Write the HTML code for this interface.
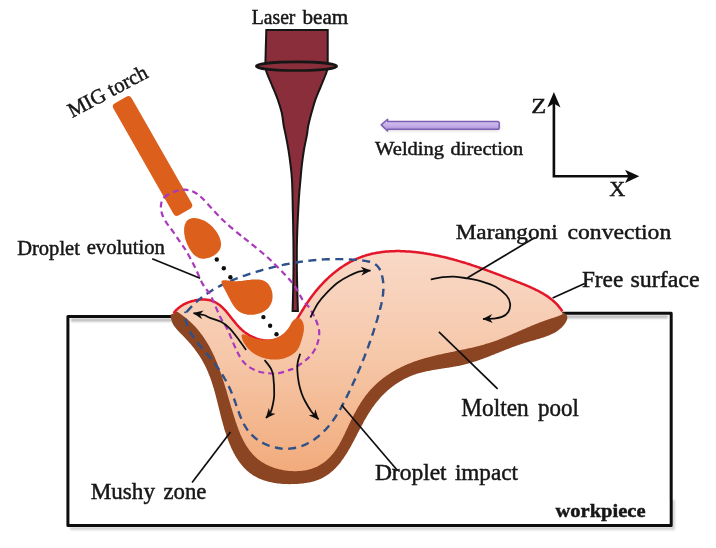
<!DOCTYPE html>
<html><head><meta charset="utf-8">
<style>
html,body{margin:0;padding:0;background:#fff;}
svg{display:block;}
text{font-family:"Liberation Serif",serif;fill:#151515;stroke:#151515;stroke-width:0.45px;}
</style></head>
<body>
<svg width="716" height="548" viewBox="0 0 716 548">
<defs>
<linearGradient id="pg" x1="0" y1="250" x2="0" y2="480" gradientUnits="userSpaceOnUse">
<stop offset="0" stop-color="#f9d9c8"/><stop offset="0.45" stop-color="#f6c8aa"/><stop offset="1" stop-color="#f1a978"/>
</linearGradient>
<linearGradient id="wg" x1="0" y1="0" x2="0" y2="1"><stop offset="0" stop-color="#dccbf3"/><stop offset="0.5" stop-color="#c7b0e8"/><stop offset="1" stop-color="#a98cd8"/></linearGradient>
<filter id="sh2" x="-10%" y="-10%" width="120%" height="120%"><feGaussianBlur stdDeviation="0.9"/></filter>
<filter id="sh" x="-10%" y="-10%" width="120%" height="120%"><feGaussianBlur stdDeviation="1.5"/></filter>
<filter id="bl" x="-5%" y="-5%" width="110%" height="110%"><feGaussianBlur stdDeviation="0.35"/></filter>
<marker id="ah" viewBox="0 0 10 10" refX="9.5" refY="5" markerWidth="10" markerHeight="10" orient="auto" markerUnits="userSpaceOnUse">
<path d="M0,0.5 L10,5 L0,9.5 L3,5 Z" fill="#111"/></marker>
</defs>
<g filter="url(#bl)">
<!-- workpiece shadow -->
<g filter="url(#sh2)" stroke="#b5b5b5" stroke-width="3" fill="none">
<path d="M71,320 L174,320 M563,316.8 L668,316.8"/><path d="M673.3,500 L673.3,528.6 L70,528.6" stroke="#d0d0d0"/>
</g>
<g stroke="#111" stroke-width="3" fill="none" stroke-linejoin="miter">
<path d="M174,316.6 L67.9,316.6 L67.9,525.6 L671.2,525.6 L671.2,313.3 L561,313.3" stroke-linejoin="round"/>
</g>
<!-- pool -->
<path d="M170.8,314.5 L170.8,315.6 L170.8,316.7 L170.9,317.7 L171.1,318.7 L171.3,319.7 L171.6,320.6 L171.9,321.6 L172.2,322.4 L172.6,323.3 L173.0,324.2 L173.5,325.0 L174.0,325.8 L174.5,326.6 L175.1,327.3 L175.7,328.1 L176.3,328.8 L176.9,329.6 L177.6,330.3 L178.3,331.0 L179.0,331.7 L179.7,332.4 L180.4,333.2 L181.1,333.9 L181.8,334.6 L182.5,335.3 L183.2,336.0 L183.9,336.7 L184.6,337.5 L185.3,338.2 L186.0,338.9 L186.7,339.7 L187.4,340.4 L188.1,341.2 L188.8,342.0 L189.4,342.7 L190.1,343.5 L190.8,344.3 L191.4,345.1 L192.1,345.9 L192.7,346.7 L193.4,347.5 L194.0,348.3 L194.6,349.1 L195.2,349.9 L195.8,350.7 L196.4,351.6 L197.0,352.4 L197.6,353.2 L198.2,354.1 L198.8,354.9 L199.3,355.8 L199.9,356.6 L200.4,357.5 L201.0,358.3 L201.5,359.2 L202.0,360.1 L202.5,360.9 L203.0,361.8 L203.5,362.7 L203.9,363.6 L204.4,364.4 L204.9,365.3 L205.3,366.2 L205.7,367.1 L206.2,368.0 L206.6,368.9 L207.0,369.8 L207.4,370.7 L207.8,371.6 L208.2,372.5 L208.5,373.4 L208.9,374.4 L209.3,375.3 L209.6,376.2 L210.0,377.1 L210.3,378.0 L210.7,379.0 L211.0,379.9 L211.3,380.8 L211.6,381.8 L211.9,382.7 L212.2,383.6 L212.5,384.6 L212.8,385.5 L213.1,386.5 L213.4,387.4 L213.7,388.3 L214.0,389.3 L214.2,390.3 L214.5,391.2 L214.8,392.2 L215.0,393.1 L215.3,394.1 L215.6,395.0 L215.8,396.0 L216.1,397.0 L216.3,397.9 L216.6,398.9 L216.8,399.9 L217.0,400.8 L217.3,401.8 L217.5,402.8 L217.8,403.7 L218.0,404.7 L218.3,405.7 L218.5,406.7 L218.7,407.6 L219.0,408.6 L219.2,409.6 L219.5,410.6 L219.7,411.5 L219.9,412.5 L220.2,413.5 L220.4,414.5 L220.7,415.5 L220.9,416.4 L221.2,417.4 L221.4,418.4 L221.7,419.4 L221.9,420.4 L222.2,421.3 L222.5,422.3 L222.7,423.3 L223.0,424.3 L223.3,425.3 L223.6,426.3 L223.9,427.2 L224.1,428.2 L224.4,429.2 L224.7,430.2 L225.0,431.2 L225.3,432.1 L225.7,433.1 L226.0,434.1 L226.3,435.1 L226.6,436.0 L227.0,437.0 L227.3,438.0 L227.7,438.9 L228.0,439.9 L228.4,440.9 L228.7,441.8 L229.1,442.8 L229.5,443.7 L229.9,444.7 L230.3,445.6 L230.7,446.5 L231.1,447.4 L231.5,448.4 L231.9,449.3 L232.4,450.2 L232.8,451.1 L233.3,452.0 L233.7,452.9 L234.2,453.7 L234.7,454.6 L235.1,455.5 L235.6,456.3 L236.1,457.2 L236.7,458.0 L237.2,458.8 L237.7,459.6 L238.3,460.4 L238.8,461.2 L239.4,462.0 L239.9,462.8 L240.5,463.6 L241.1,464.3 L241.7,465.1 L242.3,465.8 L242.9,466.5 L243.6,467.2 L244.2,467.9 L244.9,468.6 L245.6,469.3 L246.2,469.9 L246.9,470.6 L247.6,471.2 L248.4,471.8 L249.1,472.4 L249.8,473.0 L250.6,473.5 L251.3,474.1 L252.1,474.6 L252.9,475.2 L253.7,475.7 L254.5,476.1 L255.4,476.6 L256.2,477.1 L257.1,477.5 L258.0,477.9 L258.8,478.4 L259.7,478.7 L260.6,479.1 L261.5,479.5 L262.5,479.8 L263.4,480.2 L264.3,480.5 L265.3,480.8 L266.3,481.1 L267.2,481.4 L268.2,481.6 L269.2,481.9 L270.2,482.1 L271.2,482.3 L272.2,482.5 L273.2,482.7 L274.2,482.9 L275.3,483.1 L276.3,483.2 L277.3,483.4 L278.4,483.5 L279.4,483.6 L280.5,483.7 L281.5,483.8 L282.6,483.9 L283.7,484.0 L284.7,484.0 L285.8,484.1 L286.9,484.1 L287.9,484.1 L289.0,484.2 L290.1,484.2 L291.2,484.1 L292.2,484.1 L293.3,484.1 L294.4,484.1 L295.5,484.0 L296.5,484.0 L297.6,483.9 L298.7,483.8 L299.8,483.7 L300.8,483.6 L301.9,483.5 L303.0,483.4 L304.0,483.3 L305.1,483.1 L306.1,483.0 L307.1,482.8 L308.2,482.6 L309.2,482.4 L310.2,482.2 L311.2,481.9 L312.2,481.7 L313.2,481.4 L314.2,481.2 L315.1,480.9 L316.1,480.6 L317.0,480.2 L317.9,479.9 L318.9,479.5 L319.8,479.2 L320.7,478.8 L321.5,478.4 L322.4,477.9 L323.2,477.5 L324.1,477.0 L324.9,476.6 L325.7,476.1 L326.5,475.6 L327.3,475.1 L328.1,474.5 L328.8,474.0 L329.6,473.4 L330.3,472.8 L331.0,472.2 L331.8,471.6 L332.5,471.0 L333.2,470.4 L333.9,469.7 L334.5,469.1 L335.2,468.4 L335.9,467.7 L336.5,467.0 L337.2,466.3 L337.8,465.6 L338.4,464.9 L339.0,464.2 L339.7,463.4 L340.3,462.7 L340.9,461.9 L341.4,461.1 L342.0,460.3 L342.6,459.5 L343.2,458.7 L343.7,457.9 L344.3,457.1 L344.8,456.3 L345.4,455.5 L345.9,454.6 L346.5,453.8 L347.0,452.9 L347.5,452.1 L348.0,451.2 L348.5,450.3 L349.0,449.5 L349.6,448.6 L350.1,447.7 L350.6,446.8 L351.1,445.9 L351.6,445.0 L352.0,444.1 L352.5,443.2 L353.0,442.3 L353.5,441.4 L354.0,440.5 L354.5,439.6 L355.0,438.6 L355.4,437.7 L355.9,436.8 L356.4,435.9 L356.9,434.9 L357.3,434.0 L357.8,433.1 L358.3,432.2 L358.8,431.2 L359.3,430.3 L359.7,429.4 L360.2,428.5 L360.7,427.5 L361.2,426.6 L361.7,425.7 L362.2,424.8 L362.7,423.9 L363.2,423.0 L363.6,422.0 L364.1,421.1 L364.6,420.2 L365.2,419.3 L365.7,418.4 L366.2,417.5 L366.7,416.7 L367.2,415.8 L367.7,414.9 L368.3,414.0 L368.8,413.2 L369.4,412.3 L369.9,411.4 L370.5,410.6 L371.0,409.8 L371.6,408.9 L372.1,408.1 L372.7,407.3 L373.3,406.5 L373.9,405.7 L374.5,404.9 L375.1,404.1 L375.7,403.3 L376.3,402.5 L376.9,401.7 L377.6,401.0 L378.2,400.2 L378.8,399.5 L379.5,398.7 L380.1,398.0 L380.8,397.3 L381.4,396.6 L382.1,395.8 L382.8,395.1 L383.5,394.5 L384.2,393.8 L384.9,393.1 L385.6,392.4 L386.3,391.8 L387.0,391.1 L387.7,390.5 L388.4,389.8 L389.2,389.2 L389.9,388.6 L390.6,388.0 L391.4,387.4 L392.1,386.8 L392.9,386.2 L393.7,385.7 L394.5,385.1 L395.2,384.5 L396.0,384.0 L396.8,383.5 L397.6,382.9 L398.4,382.4 L399.2,381.9 L400.1,381.4 L400.9,380.9 L401.7,380.4 L402.6,380.0 L403.4,379.5 L404.3,379.1 L405.1,378.6 L406.0,378.2 L406.9,377.8 L407.8,377.4 L408.6,377.0 L409.5,376.6 L410.4,376.2 L411.3,375.8 L412.3,375.5 L413.2,375.1 L414.1,374.8 L415.0,374.4 L416.0,374.1 L416.9,373.8 L417.9,373.5 L418.8,373.2 L419.8,373.0 L420.8,372.7 L421.8,372.4 L422.7,372.2 L423.7,372.0 L424.7,371.7 L425.7,371.5 L426.7,371.3 L427.7,371.1 L428.7,370.9 L429.8,370.7 L430.8,370.5 L431.8,370.3 L432.8,370.1 L433.9,369.9 L434.9,369.8 L435.9,369.6 L436.9,369.4 L438.0,369.3 L439.0,369.1 L440.0,368.9 L441.1,368.8 L442.1,368.6 L443.2,368.5 L444.2,368.3 L445.2,368.1 L446.3,368.0 L447.3,367.8 L448.3,367.7 L449.4,367.5 L450.4,367.3 L451.4,367.2 L452.4,367.0 L453.5,366.8 L454.5,366.6 L455.5,366.5 L456.5,366.3 L457.5,366.1 L458.5,365.9 L459.5,365.7 L460.5,365.5 L461.5,365.2 L462.5,365.0 L463.5,364.8 L464.5,364.5 L465.4,364.3 L466.4,364.0 L467.4,363.8 L468.3,363.5 L469.3,363.2 L470.2,363.0 L471.2,362.7 L472.1,362.4 L473.1,362.1 L474.0,361.8 L475.0,361.5 L475.9,361.2 L476.8,360.9 L477.8,360.6 L478.7,360.2 L479.6,359.9 L480.5,359.6 L481.5,359.3 L482.4,358.9 L483.3,358.6 L484.2,358.3 L485.1,357.9 L486.0,357.6 L487.0,357.2 L487.9,356.9 L488.8,356.5 L489.7,356.2 L490.6,355.8 L491.5,355.4 L492.4,355.1 L493.3,354.7 L494.2,354.4 L495.1,354.0 L496.0,353.6 L497.0,353.3 L497.9,352.9 L498.8,352.5 L499.7,352.2 L500.6,351.8 L501.5,351.4 L502.4,351.1 L503.3,350.7 L504.3,350.3 L505.2,350.0 L506.1,349.6 L507.0,349.2 L508.0,348.9 L508.9,348.5 L509.8,348.2 L510.7,347.8 L511.7,347.5 L512.6,347.1 L513.6,346.8 L514.5,346.4 L515.4,346.1 L516.4,345.7 L517.3,345.4 L518.3,345.0 L519.3,344.7 L520.2,344.4 L521.2,344.1 L522.2,343.7 L523.2,343.4 L524.1,343.1 L525.1,342.8 L526.1,342.5 L527.1,342.2 L528.1,341.9 L529.1,341.6 L530.1,341.3 L531.1,341.0 L532.1,340.8 L533.2,340.5 L534.2,340.2 L535.2,339.9 L536.2,339.6 L537.2,339.3 L538.2,339.0 L539.2,338.7 L540.2,338.4 L541.2,338.1 L542.2,337.8 L543.2,337.5 L544.1,337.2 L545.1,336.8 L546.1,336.5 L547.0,336.1 L548.0,335.8 L548.9,335.4 L549.8,335.0 L550.7,334.6 L551.6,334.2 L552.5,333.8 L553.4,333.3 L554.2,332.9 L555.1,332.4 L555.9,331.9 L556.7,331.4 L557.5,330.9 L558.3,330.3 L559.0,329.7 L559.8,329.1 L560.5,328.5 L561.2,327.9 L561.9,327.2 L562.5,326.6 L563.1,325.9 L563.8,325.1 L564.3,324.4 L564.9,323.6 L565.4,322.8 L565.9,321.9 L566.4,321.1 L566.8,320.2 L567.1,319.3 L567.3,318.5 L567.3,317.6 L567.3,316.7 L567.0,315.9 L566.6,315.0 L566.0,314.2 L565.1,313.5 L564.1,312.8 L561.7,311.9 L561.4,310.9 L561.1,309.9 L560.8,308.9 L560.4,308.0 L559.9,307.2 L559.4,306.3 L558.9,305.5 L558.3,304.7 L557.7,304.0 L557.1,303.3 L556.5,302.6 L555.8,301.9 L555.1,301.2 L554.3,300.6 L553.5,300.0 L552.8,299.4 L551.9,298.9 L551.1,298.3 L550.3,297.8 L549.4,297.2 L548.5,296.7 L547.7,296.2 L546.8,295.8 L545.9,295.3 L545.0,294.8 L544.1,294.3 L543.1,293.9 L542.2,293.4 L541.3,293.0 L540.4,292.5 L539.5,292.1 L538.6,291.6 L537.7,291.2 L536.8,290.8 L535.8,290.3 L534.9,289.9 L534.0,289.5 L533.1,289.1 L532.2,288.6 L531.3,288.2 L530.3,287.8 L529.4,287.4 L528.5,287.0 L527.6,286.6 L526.7,286.2 L525.7,285.8 L524.8,285.4 L523.9,285.0 L523.0,284.6 L522.1,284.2 L521.1,283.8 L520.2,283.4 L519.3,283.0 L518.4,282.6 L517.4,282.2 L516.5,281.8 L515.6,281.5 L514.7,281.1 L513.7,280.7 L512.8,280.3 L511.9,280.0 L511.0,279.6 L510.0,279.2 L509.1,278.8 L508.2,278.5 L507.3,278.1 L506.3,277.7 L505.4,277.4 L504.5,277.0 L503.5,276.6 L502.6,276.3 L501.7,275.9 L500.7,275.6 L499.8,275.2 L498.9,274.8 L497.9,274.5 L497.0,274.1 L496.1,273.8 L495.1,273.4 L494.2,273.1 L493.3,272.7 L492.3,272.3 L491.4,272.0 L490.5,271.6 L489.5,271.3 L488.6,270.9 L487.7,270.6 L486.7,270.2 L485.8,269.9 L484.9,269.5 L483.9,269.2 L483.0,268.8 L482.0,268.5 L481.1,268.2 L480.2,267.8 L479.2,267.5 L478.3,267.1 L477.3,266.8 L476.4,266.5 L475.4,266.1 L474.5,265.8 L473.6,265.5 L472.6,265.2 L471.7,264.8 L470.7,264.5 L469.8,264.2 L468.8,263.9 L467.9,263.6 L466.9,263.3 L466.0,263.0 L465.0,262.6 L464.1,262.3 L463.1,262.0 L462.2,261.7 L461.2,261.5 L460.2,261.2 L459.3,260.9 L458.3,260.6 L457.4,260.3 L456.4,260.0 L455.5,259.7 L454.5,259.5 L453.5,259.2 L452.6,258.9 L451.6,258.7 L450.6,258.4 L449.7,258.2 L448.7,257.9 L447.7,257.7 L446.8,257.4 L445.8,257.2 L444.8,256.9 L443.9,256.7 L442.9,256.5 L441.9,256.2 L440.9,256.0 L440.0,255.8 L439.0,255.6 L438.0,255.4 L437.0,255.2 L436.1,255.0 L435.1,254.8 L434.1,254.6 L433.1,254.4 L432.1,254.2 L431.1,254.1 L430.2,253.9 L429.2,253.7 L428.2,253.6 L427.2,253.4 L426.2,253.2 L425.2,253.1 L424.2,253.0 L423.2,252.8 L422.2,252.7 L421.2,252.6 L420.2,252.4 L419.2,252.3 L418.2,252.2 L417.2,252.1 L416.2,252.0 L415.2,251.9 L414.2,251.8 L413.2,251.8 L412.2,251.7 L411.2,251.6 L410.2,251.6 L409.1,251.5 L408.1,251.5 L407.1,251.4 L406.1,251.4 L405.1,251.3 L404.1,251.3 L403.0,251.3 L402.0,251.3 L401.0,251.3 L400.0,251.3 L399.0,251.3 L397.9,251.3 L396.9,251.3 L395.9,251.4 L394.9,251.4 L393.9,251.5 L392.8,251.5 L391.8,251.6 L390.8,251.6 L389.8,251.7 L388.8,251.8 L387.7,251.9 L386.7,252.0 L385.7,252.1 L384.7,252.2 L383.7,252.3 L382.7,252.4 L381.7,252.6 L380.7,252.7 L379.7,252.8 L378.7,253.0 L377.7,253.2 L376.7,253.3 L375.7,253.5 L374.7,253.7 L373.7,253.9 L372.8,254.1 L371.8,254.3 L370.8,254.6 L369.8,254.8 L368.9,255.0 L367.9,255.3 L366.9,255.5 L366.0,255.8 L365.0,256.1 L364.1,256.4 L363.1,256.7 L362.2,257.0 L361.3,257.3 L360.3,257.6 L359.4,257.9 L358.5,258.3 L357.6,258.6 L356.6,259.0 L355.7,259.3 L354.8,259.7 L353.9,260.1 L353.1,260.5 L352.2,260.9 L351.3,261.3 L350.4,261.8 L349.6,262.2 L348.7,262.6 L347.9,263.1 L347.0,263.6 L346.2,264.1 L345.3,264.5 L344.5,265.0 L343.7,265.5 L342.9,266.1 L342.1,266.6 L341.3,267.1 L340.5,267.7 L339.7,268.2 L338.9,268.8 L338.1,269.3 L337.3,269.9 L336.5,270.5 L335.8,271.1 L335.0,271.7 L334.3,272.3 L333.5,272.9 L332.8,273.6 L332.0,274.2 L331.3,274.9 L330.6,275.5 L329.8,276.2 L329.1,276.8 L328.4,277.5 L327.7,278.2 L327.0,278.9 L326.3,279.6 L325.6,280.3 L324.9,281.0 L324.2,281.7 L323.5,282.4 L322.9,283.2 L322.2,283.9 L321.5,284.7 L320.8,285.4 L320.2,286.2 L319.5,286.9 L318.9,287.7 L318.2,288.5 L317.6,289.3 L316.9,290.1 L316.3,290.9 L315.6,291.7 L315.0,292.5 L314.4,293.3 L313.7,294.1 L313.1,294.9 L312.5,295.8 L311.9,296.6 L311.3,297.4 L310.7,298.3 L310.0,299.1 L309.4,300.0 L308.8,300.8 L308.2,301.7 L307.6,302.6 L307.0,303.4 L306.5,304.3 L305.9,305.2 L305.3,306.1 L304.7,307.0 L304.1,307.9 L303.5,308.8 L302.9,309.7 L302.4,310.6 L301.8,311.5 L301.2,312.4 L300.6,313.3 L300.1,314.2 L299.5,315.1 L298.9,316.0 L298.4,316.9 L297.8,317.8 L297.2,318.7 L296.6,319.5 L296.0,320.4 L295.5,321.3 L294.9,322.2 L294.3,323.0 L293.7,323.8 L293.1,324.7 L292.5,325.5 L291.9,326.3 L291.3,327.1 L290.6,327.9 L290.0,328.7 L289.4,329.4 L288.7,330.1 L288.1,330.9 L287.4,331.6 L286.8,332.2 L286.1,332.9 L285.4,333.5 L284.7,334.1 L284.0,334.7 L283.3,335.3 L282.6,335.9 L281.9,336.4 L281.2,336.9 L280.4,337.3 L279.6,337.8 L278.9,338.2 L278.1,338.6 L277.3,338.9 L276.5,339.2 L275.7,339.5 L274.8,339.8 L274.0,340.0 L273.1,340.2 L272.2,340.4 L271.3,340.5 L270.4,340.6 L269.5,340.6 L268.6,340.7 L267.6,340.6 L266.7,340.6 L265.7,340.5 L264.8,340.4 L263.8,340.3 L262.8,340.2 L261.9,340.0 L260.9,339.8 L259.9,339.5 L258.9,339.3 L258.0,339.0 L257.0,338.7 L256.0,338.3 L255.1,338.0 L254.1,337.6 L253.1,337.2 L252.2,336.8 L251.2,336.3 L250.3,335.8 L249.3,335.3 L248.4,334.8 L247.5,334.3 L246.6,333.7 L245.7,333.1 L244.8,332.5 L243.9,331.9 L243.1,331.3 L242.2,330.6 L241.4,330.0 L240.6,329.3 L239.8,328.6 L239.1,327.9 L238.3,327.2 L237.6,326.4 L236.9,325.7 L236.2,324.9 L235.5,324.1 L234.9,323.3 L234.3,322.5 L233.7,321.7 L233.1,320.9 L232.6,320.1 L232.0,319.2 L231.5,318.4 L230.9,317.6 L230.4,316.8 L229.9,315.9 L229.4,315.1 L228.9,314.3 L228.4,313.5 L227.8,312.7 L227.3,311.9 L226.7,311.1 L226.2,310.4 L225.6,309.6 L225.0,308.9 L224.4,308.2 L223.8,307.5 L223.1,306.9 L222.5,306.3 L221.8,305.6 L221.0,305.1 L220.2,304.5 L219.4,304.0 L218.6,303.5 L217.7,303.1 L216.8,302.6 L215.9,302.2 L214.9,301.9 L213.9,301.5 L212.9,301.2 L211.9,301.0 L210.9,300.7 L209.8,300.5 L208.8,300.3 L207.7,300.2 L206.6,300.1 L205.6,300.0 L204.5,299.9 L203.5,299.8 L202.4,299.8 L201.4,299.8 L200.3,299.9 L199.3,299.9 L198.3,300.0 L197.3,300.1 L196.3,300.3 L195.3,300.4 L194.3,300.6 L193.3,300.8 L192.3,301.1 L191.4,301.3 L190.4,301.6 L189.5,302.0 L188.6,302.3 L187.6,302.7 L186.7,303.1 L185.9,303.5 L185.0,303.9 L184.1,304.4 L183.3,304.9 L182.4,305.4 L181.6,305.9 L180.8,306.5 L180.0,307.1 L179.2,307.7 L178.4,308.3 L177.7,309.0 L176.9,309.6 L176.2,310.3 L175.5,311.0 L174.8,311.8 L174.1,312.6 L173.4,313.4Z" fill="#8b4422"/>
<path d="M176.7,311.4 L177.7,312.0 L178.6,312.6 L179.5,313.2 L180.4,313.8 L181.3,314.4 L182.2,315.1 L183.0,315.7 L183.9,316.4 L184.7,317.0 L185.5,317.7 L186.4,318.3 L187.2,319.0 L188.0,319.7 L188.7,320.4 L189.5,321.1 L190.3,321.8 L191.0,322.5 L191.8,323.2 L192.5,323.9 L193.2,324.6 L193.9,325.4 L194.6,326.1 L195.3,326.8 L196.0,327.6 L196.6,328.3 L197.3,329.1 L197.9,329.8 L198.6,330.6 L199.2,331.4 L199.8,332.1 L200.4,332.9 L201.0,333.7 L201.6,334.5 L202.2,335.3 L202.8,336.1 L203.4,336.9 L203.9,337.7 L204.5,338.5 L205.0,339.4 L205.5,340.2 L206.1,341.0 L206.6,341.9 L207.1,342.7 L207.6,343.5 L208.1,344.4 L208.6,345.2 L209.1,346.1 L209.6,346.9 L210.0,347.8 L210.5,348.7 L210.9,349.6 L211.4,350.4 L211.8,351.3 L212.3,352.2 L212.7,353.1 L213.1,354.0 L213.6,354.9 L214.0,355.7 L214.4,356.6 L214.8,357.5 L215.2,358.5 L215.6,359.4 L216.0,360.3 L216.3,361.2 L216.7,362.1 L217.1,363.0 L217.5,363.9 L217.8,364.9 L218.2,365.8 L218.5,366.7 L218.9,367.7 L219.2,368.6 L219.6,369.5 L219.9,370.5 L220.2,371.4 L220.6,372.4 L220.9,373.3 L221.2,374.3 L221.6,375.2 L221.9,376.2 L222.2,377.1 L222.5,378.1 L222.8,379.0 L223.1,380.0 L223.4,380.9 L223.7,381.9 L224.0,382.9 L224.3,383.8 L224.6,384.8 L224.9,385.8 L225.2,386.7 L225.5,387.7 L225.8,388.7 L226.1,389.6 L226.4,390.6 L226.7,391.6 L226.9,392.5 L227.2,393.5 L227.5,394.5 L227.8,395.5 L228.1,396.4 L228.4,397.4 L228.7,398.4 L228.9,399.4 L229.2,400.3 L229.5,401.3 L229.8,402.3 L230.1,403.3 L230.4,404.2 L230.6,405.2 L230.9,406.2 L231.2,407.2 L231.5,408.1 L231.8,409.1 L232.1,410.1 L232.4,411.0 L232.7,412.0 L233.0,413.0 L233.3,414.0 L233.6,414.9 L233.9,415.9 L234.2,416.9 L234.5,417.8 L234.8,418.8 L235.1,419.8 L235.4,420.7 L235.7,421.7 L236.0,422.6 L236.4,423.6 L236.7,424.5 L237.0,425.5 L237.4,426.4 L237.7,427.4 L238.0,428.3 L238.4,429.3 L238.7,430.2 L239.1,431.1 L239.5,432.0 L239.9,433.0 L240.2,433.9 L240.6,434.8 L241.0,435.7 L241.4,436.6 L241.8,437.5 L242.3,438.3 L242.7,439.2 L243.1,440.1 L243.6,440.9 L244.0,441.8 L244.5,442.6 L245.0,443.5 L245.4,444.3 L245.9,445.1 L246.4,445.9 L247.0,446.8 L247.5,447.5 L248.0,448.3 L248.6,449.1 L249.1,449.9 L249.7,450.6 L250.3,451.4 L250.9,452.1 L251.5,452.8 L252.1,453.6 L252.7,454.3 L253.4,455.0 L254.0,455.6 L254.7,456.3 L255.4,457.0 L256.1,457.6 L256.8,458.2 L257.5,458.9 L258.3,459.5 L259.0,460.1 L259.8,460.6 L260.6,461.2 L261.4,461.8 L262.3,462.3 L263.1,462.8 L264.0,463.3 L264.8,463.8 L265.7,464.3 L266.6,464.8 L267.6,465.2 L268.5,465.6 L269.4,466.1 L270.4,466.5 L271.4,466.8 L272.4,467.2 L273.3,467.6 L274.3,467.9 L275.4,468.2 L276.4,468.5 L277.4,468.8 L278.4,469.1 L279.5,469.4 L280.5,469.6 L281.6,469.8 L282.6,470.0 L283.7,470.2 L284.8,470.4 L285.8,470.6 L286.9,470.7 L288.0,470.8 L289.1,470.9 L290.1,471.0 L291.2,471.1 L292.3,471.1 L293.4,471.2 L294.5,471.2 L295.5,471.2 L296.6,471.2 L297.7,471.1 L298.7,471.1 L299.8,471.0 L300.8,470.9 L301.9,470.8 L302.9,470.7 L304.0,470.5 L305.0,470.4 L306.0,470.2 L307.0,470.0 L308.0,469.7 L309.0,469.5 L310.0,469.2 L310.9,469.0 L311.9,468.7 L312.8,468.3 L313.8,468.0 L314.7,467.6 L315.6,467.3 L316.5,466.9 L317.4,466.4 L318.2,466.0 L319.1,465.5 L319.9,465.1 L320.7,464.6 L321.6,464.1 L322.4,463.5 L323.1,463.0 L323.9,462.4 L324.7,461.9 L325.4,461.3 L326.1,460.7 L326.9,460.1 L327.6,459.4 L328.3,458.8 L329.0,458.1 L329.6,457.4 L330.3,456.7 L330.9,456.0 L331.6,455.3 L332.2,454.6 L332.8,453.9 L333.4,453.1 L334.0,452.4 L334.6,451.6 L335.2,450.8 L335.7,450.0 L336.3,449.2 L336.8,448.4 L337.3,447.6 L337.8,446.7 L338.4,445.9 L338.9,445.1 L339.4,444.2 L339.8,443.3 L340.3,442.5 L340.8,441.6 L341.3,440.7 L341.7,439.8 L342.2,438.9 L342.6,438.0 L343.1,437.1 L343.5,436.2 L344.0,435.3 L344.4,434.4 L344.9,433.5 L345.3,432.6 L345.7,431.6 L346.2,430.7 L346.6,429.8 L347.0,428.9 L347.5,427.9 L347.9,427.0 L348.3,426.1 L348.8,425.1 L349.2,424.2 L349.6,423.3 L350.1,422.4 L350.5,421.4 L351.0,420.5 L351.4,419.6 L351.9,418.7 L352.3,417.7 L352.8,416.8 L353.3,415.9 L353.7,415.0 L354.2,414.1 L354.7,413.2 L355.2,412.3 L355.7,411.4 L356.2,410.5 L356.7,409.6 L357.2,408.7 L357.7,407.8 L358.2,407.0 L358.7,406.1 L359.2,405.2 L359.8,404.4 L360.3,403.5 L360.8,402.6 L361.4,401.8 L361.9,401.0 L362.5,400.1 L363.1,399.3 L363.6,398.5 L364.2,397.7 L364.8,396.8 L365.4,396.0 L366.0,395.2 L366.6,394.4 L367.2,393.7 L367.9,392.9 L368.5,392.1 L369.1,391.4 L369.8,390.6 L370.4,389.9 L371.1,389.1 L371.8,388.4 L372.5,387.7 L373.2,387.0 L373.9,386.3 L374.6,385.6 L375.3,384.9 L376.0,384.2 L376.7,383.5 L377.5,382.9 L378.2,382.2 L379.0,381.6 L379.7,380.9 L380.5,380.3 L381.3,379.7 L382.0,379.1 L382.8,378.4 L383.6,377.8 L384.4,377.2 L385.2,376.7 L386.0,376.1 L386.8,375.5 L387.6,375.0 L388.5,374.4 L389.3,373.9 L390.1,373.3 L391.0,372.8 L391.8,372.3 L392.7,371.8 L393.5,371.2 L394.4,370.7 L395.2,370.3 L396.1,369.8 L397.0,369.3 L397.9,368.8 L398.8,368.4 L399.6,367.9 L400.5,367.5 L401.4,367.0 L402.3,366.6 L403.2,366.2 L404.1,365.7 L405.0,365.3 L405.9,364.9 L406.9,364.5 L407.8,364.1 L408.7,363.8 L409.6,363.4 L410.5,363.0 L411.5,362.7 L412.4,362.3 L413.3,362.0 L414.3,361.6 L415.2,361.3 L416.1,361.0 L417.1,360.7 L418.0,360.3 L419.0,360.0 L419.9,359.7 L420.9,359.4 L421.8,359.1 L422.8,358.9 L423.7,358.6 L424.7,358.3 L425.7,358.0 L426.6,357.8 L427.6,357.5 L428.6,357.2 L429.5,357.0 L430.5,356.7 L431.5,356.5 L432.4,356.2 L433.4,356.0 L434.4,355.8 L435.4,355.5 L436.3,355.3 L437.3,355.1 L438.3,354.8 L439.3,354.6 L440.2,354.4 L441.2,354.2 L442.2,354.0 L443.2,353.7 L444.2,353.5 L445.2,353.3 L446.1,353.1 L447.1,352.9 L448.1,352.7 L449.1,352.5 L450.1,352.3 L451.1,352.1 L452.1,351.9 L453.0,351.7 L454.0,351.5 L455.0,351.3 L456.0,351.1 L457.0,350.9 L458.0,350.7 L459.0,350.5 L459.9,350.3 L460.9,350.0 L461.9,349.8 L462.9,349.6 L463.9,349.4 L464.9,349.2 L465.9,349.0 L466.8,348.8 L467.8,348.6 L468.8,348.3 L469.8,348.1 L470.8,347.9 L471.8,347.7 L472.7,347.4 L473.7,347.2 L474.7,347.0 L475.7,346.7 L476.6,346.5 L477.6,346.2 L478.6,346.0 L479.6,345.7 L480.5,345.5 L481.5,345.2 L482.5,345.0 L483.4,344.7 L484.4,344.4 L485.4,344.1 L486.3,343.8 L487.3,343.6 L488.2,343.3 L489.2,343.0 L490.2,342.7 L491.1,342.3 L492.1,342.0 L493.0,341.7 L493.9,341.4 L494.9,341.0 L495.8,340.7 L496.8,340.4 L497.7,340.0 L498.7,339.7 L499.6,339.3 L500.5,338.9 L501.5,338.6 L502.4,338.2 L503.3,337.8 L504.3,337.5 L505.2,337.1 L506.1,336.7 L507.0,336.3 L508.0,335.9 L508.9,335.6 L509.8,335.2 L510.7,334.8 L511.7,334.4 L512.6,334.0 L513.5,333.6 L514.4,333.2 L515.4,332.8 L516.3,332.4 L517.2,332.0 L518.1,331.6 L519.0,331.2 L520.0,330.8 L520.9,330.4 L521.8,330.0 L522.7,329.6 L523.6,329.2 L524.6,328.8 L525.5,328.4 L526.4,328.0 L527.3,327.6 L528.3,327.2 L529.2,326.8 L530.1,326.4 L531.0,326.0 L532.0,325.6 L532.9,325.2 L533.8,324.9 L534.7,324.5 L535.7,324.1 L536.6,323.7 L537.5,323.4 L538.5,323.0 L539.4,322.6 L540.3,322.3 L541.3,321.9 L542.2,321.6 L543.1,321.2 L544.1,320.9 L545.0,320.5 L546.0,320.2 L546.9,319.9 L547.9,319.6 L548.8,319.2 L549.8,318.9 L550.7,318.6 L551.7,318.3 L552.6,318.0 L553.6,317.7 L554.5,317.4 L555.5,317.1 L556.4,316.8 L557.3,316.4 L558.3,316.1 L559.2,315.7 L560.1,315.3 L561.0,314.9 L561.9,314.4 L562.8,314.0 L561.7,311.9 L561.4,310.9 L561.1,309.9 L560.8,308.9 L560.4,308.0 L559.9,307.2 L559.4,306.3 L558.9,305.5 L558.3,304.7 L557.7,304.0 L557.1,303.3 L556.5,302.6 L555.8,301.9 L555.1,301.2 L554.3,300.6 L553.5,300.0 L552.8,299.4 L551.9,298.9 L551.1,298.3 L550.3,297.8 L549.4,297.2 L548.5,296.7 L547.7,296.2 L546.8,295.8 L545.9,295.3 L545.0,294.8 L544.1,294.3 L543.1,293.9 L542.2,293.4 L541.3,293.0 L540.4,292.5 L539.5,292.1 L538.6,291.6 L537.7,291.2 L536.8,290.8 L535.8,290.3 L534.9,289.9 L534.0,289.5 L533.1,289.1 L532.2,288.6 L531.3,288.2 L530.3,287.8 L529.4,287.4 L528.5,287.0 L527.6,286.6 L526.7,286.2 L525.7,285.8 L524.8,285.4 L523.9,285.0 L523.0,284.6 L522.1,284.2 L521.1,283.8 L520.2,283.4 L519.3,283.0 L518.4,282.6 L517.4,282.2 L516.5,281.8 L515.6,281.5 L514.7,281.1 L513.7,280.7 L512.8,280.3 L511.9,280.0 L511.0,279.6 L510.0,279.2 L509.1,278.8 L508.2,278.5 L507.3,278.1 L506.3,277.7 L505.4,277.4 L504.5,277.0 L503.5,276.6 L502.6,276.3 L501.7,275.9 L500.7,275.6 L499.8,275.2 L498.9,274.8 L497.9,274.5 L497.0,274.1 L496.1,273.8 L495.1,273.4 L494.2,273.1 L493.3,272.7 L492.3,272.3 L491.4,272.0 L490.5,271.6 L489.5,271.3 L488.6,270.9 L487.7,270.6 L486.7,270.2 L485.8,269.9 L484.9,269.5 L483.9,269.2 L483.0,268.8 L482.0,268.5 L481.1,268.2 L480.2,267.8 L479.2,267.5 L478.3,267.1 L477.3,266.8 L476.4,266.5 L475.4,266.1 L474.5,265.8 L473.6,265.5 L472.6,265.2 L471.7,264.8 L470.7,264.5 L469.8,264.2 L468.8,263.9 L467.9,263.6 L466.9,263.3 L466.0,263.0 L465.0,262.6 L464.1,262.3 L463.1,262.0 L462.2,261.7 L461.2,261.5 L460.2,261.2 L459.3,260.9 L458.3,260.6 L457.4,260.3 L456.4,260.0 L455.5,259.7 L454.5,259.5 L453.5,259.2 L452.6,258.9 L451.6,258.7 L450.6,258.4 L449.7,258.2 L448.7,257.9 L447.7,257.7 L446.8,257.4 L445.8,257.2 L444.8,256.9 L443.9,256.7 L442.9,256.5 L441.9,256.2 L440.9,256.0 L440.0,255.8 L439.0,255.6 L438.0,255.4 L437.0,255.2 L436.1,255.0 L435.1,254.8 L434.1,254.6 L433.1,254.4 L432.1,254.2 L431.1,254.1 L430.2,253.9 L429.2,253.7 L428.2,253.6 L427.2,253.4 L426.2,253.2 L425.2,253.1 L424.2,253.0 L423.2,252.8 L422.2,252.7 L421.2,252.6 L420.2,252.4 L419.2,252.3 L418.2,252.2 L417.2,252.1 L416.2,252.0 L415.2,251.9 L414.2,251.8 L413.2,251.8 L412.2,251.7 L411.2,251.6 L410.2,251.6 L409.1,251.5 L408.1,251.5 L407.1,251.4 L406.1,251.4 L405.1,251.3 L404.1,251.3 L403.0,251.3 L402.0,251.3 L401.0,251.3 L400.0,251.3 L399.0,251.3 L397.9,251.3 L396.9,251.3 L395.9,251.4 L394.9,251.4 L393.9,251.5 L392.8,251.5 L391.8,251.6 L390.8,251.6 L389.8,251.7 L388.8,251.8 L387.7,251.9 L386.7,252.0 L385.7,252.1 L384.7,252.2 L383.7,252.3 L382.7,252.4 L381.7,252.6 L380.7,252.7 L379.7,252.8 L378.7,253.0 L377.7,253.2 L376.7,253.3 L375.7,253.5 L374.7,253.7 L373.7,253.9 L372.8,254.1 L371.8,254.3 L370.8,254.6 L369.8,254.8 L368.9,255.0 L367.9,255.3 L366.9,255.5 L366.0,255.8 L365.0,256.1 L364.1,256.4 L363.1,256.7 L362.2,257.0 L361.3,257.3 L360.3,257.6 L359.4,257.9 L358.5,258.3 L357.6,258.6 L356.6,259.0 L355.7,259.3 L354.8,259.7 L353.9,260.1 L353.1,260.5 L352.2,260.9 L351.3,261.3 L350.4,261.8 L349.6,262.2 L348.7,262.6 L347.9,263.1 L347.0,263.6 L346.2,264.1 L345.3,264.5 L344.5,265.0 L343.7,265.5 L342.9,266.1 L342.1,266.6 L341.3,267.1 L340.5,267.7 L339.7,268.2 L338.9,268.8 L338.1,269.3 L337.3,269.9 L336.5,270.5 L335.8,271.1 L335.0,271.7 L334.3,272.3 L333.5,272.9 L332.8,273.6 L332.0,274.2 L331.3,274.9 L330.6,275.5 L329.8,276.2 L329.1,276.8 L328.4,277.5 L327.7,278.2 L327.0,278.9 L326.3,279.6 L325.6,280.3 L324.9,281.0 L324.2,281.7 L323.5,282.4 L322.9,283.2 L322.2,283.9 L321.5,284.7 L320.8,285.4 L320.2,286.2 L319.5,286.9 L318.9,287.7 L318.2,288.5 L317.6,289.3 L316.9,290.1 L316.3,290.9 L315.6,291.7 L315.0,292.5 L314.4,293.3 L313.7,294.1 L313.1,294.9 L312.5,295.8 L311.9,296.6 L311.3,297.4 L310.7,298.3 L310.0,299.1 L309.4,300.0 L308.8,300.8 L308.2,301.7 L307.6,302.6 L307.0,303.4 L306.5,304.3 L305.9,305.2 L305.3,306.1 L304.7,307.0 L304.1,307.9 L303.5,308.8 L302.9,309.7 L302.4,310.6 L301.8,311.5 L301.2,312.4 L300.6,313.3 L300.1,314.2 L299.5,315.1 L298.9,316.0 L298.4,316.9 L297.8,317.8 L297.2,318.7 L296.6,319.5 L296.0,320.4 L295.5,321.3 L294.9,322.2 L294.3,323.0 L293.7,323.8 L293.1,324.7 L292.5,325.5 L291.9,326.3 L291.3,327.1 L290.6,327.9 L290.0,328.7 L289.4,329.4 L288.7,330.1 L288.1,330.9 L287.4,331.6 L286.8,332.2 L286.1,332.9 L285.4,333.5 L284.7,334.1 L284.0,334.7 L283.3,335.3 L282.6,335.9 L281.9,336.4 L281.2,336.9 L280.4,337.3 L279.6,337.8 L278.9,338.2 L278.1,338.6 L277.3,338.9 L276.5,339.2 L275.7,339.5 L274.8,339.8 L274.0,340.0 L273.1,340.2 L272.2,340.4 L271.3,340.5 L270.4,340.6 L269.5,340.6 L268.6,340.7 L267.6,340.6 L266.7,340.6 L265.7,340.5 L264.8,340.4 L263.8,340.3 L262.8,340.2 L261.9,340.0 L260.9,339.8 L259.9,339.5 L258.9,339.3 L258.0,339.0 L257.0,338.7 L256.0,338.3 L255.1,338.0 L254.1,337.6 L253.1,337.2 L252.2,336.8 L251.2,336.3 L250.3,335.8 L249.3,335.3 L248.4,334.8 L247.5,334.3 L246.6,333.7 L245.7,333.1 L244.8,332.5 L243.9,331.9 L243.1,331.3 L242.2,330.6 L241.4,330.0 L240.6,329.3 L239.8,328.6 L239.1,327.9 L238.3,327.2 L237.6,326.4 L236.9,325.7 L236.2,324.9 L235.5,324.1 L234.9,323.3 L234.3,322.5 L233.7,321.7 L233.1,320.9 L232.6,320.1 L232.0,319.2 L231.5,318.4 L230.9,317.6 L230.4,316.8 L229.9,315.9 L229.4,315.1 L228.9,314.3 L228.4,313.5 L227.8,312.7 L227.3,311.9 L226.7,311.1 L226.2,310.4 L225.6,309.6 L225.0,308.9 L224.4,308.2 L223.8,307.5 L223.1,306.9 L222.5,306.3 L221.8,305.6 L221.0,305.1 L220.2,304.5 L219.4,304.0 L218.6,303.5 L217.7,303.1 L216.8,302.6 L215.9,302.2 L214.9,301.9 L213.9,301.5 L212.9,301.2 L211.9,301.0 L210.9,300.7 L209.8,300.5 L208.8,300.3 L207.7,300.2 L206.6,300.1 L205.6,300.0 L204.5,299.9 L203.5,299.8 L202.4,299.8 L201.4,299.8 L200.3,299.9 L199.3,299.9 L198.3,300.0 L197.3,300.1 L196.3,300.3 L195.3,300.4 L194.3,300.6 L193.3,300.8 L192.3,301.1 L191.4,301.3 L190.4,301.6 L189.5,302.0 L188.6,302.3 L187.6,302.7 L186.7,303.1 L185.9,303.5 L185.0,303.9 L184.1,304.4 L183.3,304.9 L182.4,305.4 L181.6,305.9 L180.8,306.5 L180.0,307.1 L179.2,307.7 L178.4,308.3 L177.7,309.0 L176.9,309.6 L176.2,310.3 L175.5,311.0 L174.8,311.8 L174.1,312.6 L173.4,313.4Z" fill="url(#pg)"/>
<path d="M173.6,313.3 L174.2,312.6 L174.7,311.8 L175.3,311.1 L175.9,310.4 L176.6,309.7 L177.3,309.1 L178.0,308.4 L178.8,307.8 L179.5,307.2 L180.4,306.6 L181.2,306.0 L182.1,305.5 L182.9,304.9 L183.8,304.4 L184.8,303.9 L185.7,303.5 L186.7,303.0 L187.7,302.6 L188.6,302.2 L189.6,301.9 L190.7,301.5 L191.7,301.2 L192.7,300.9 L193.8,300.7 L194.8,300.4 L195.8,300.2 L196.9,300.0 L197.9,299.9 L199.0,299.7 L200.0,299.6 L201.1,299.6 L202.1,299.5 L203.2,299.5 L204.2,299.6 L205.2,299.6 L206.2,299.7 L207.2,299.8 L208.2,300.0 L209.1,300.1 L210.1,300.3 L211.0,300.6 L211.9,300.9 L212.8,301.2 L213.7,301.5 L214.5,301.9 L215.4,302.3 L216.2,302.8 L217.0,303.3 L217.7,303.7 L218.5,304.3 L219.3,304.8 L220.0,305.4 L220.7,306.0 L221.4,306.6 L222.1,307.3 L222.8,307.9 L223.5,308.6 L224.2,309.3 L224.8,310.0 L225.5,310.7 L226.1,311.4 L226.8,312.2 L227.4,312.9 L228.0,313.7 L228.7,314.5 L229.3,315.3 L229.9,316.1 L230.5,316.9 L231.2,317.7 L231.8,318.5 L232.4,319.3 L233.1,320.1 L233.7,320.9 L234.4,321.6 L235.0,322.4 L235.7,323.2 L236.3,324.0 L237.0,324.8 L237.7,325.6 L238.4,326.3 L239.1,327.1 L239.8,327.8 L240.5,328.5 L241.2,329.2 L242.0,329.9 L242.8,330.6 L243.5,331.2 L244.3,331.9 L245.1,332.5 L246.0,333.1 L246.8,333.7 L247.7,334.2 L248.5,334.8 L249.4,335.3 L250.3,335.8 L251.2,336.2 L252.0,336.7 L253.0,337.1 L253.9,337.5 L254.8,337.9 L255.7,338.3 L256.6,338.6 L257.6,338.9 L258.5,339.2 L259.5,339.5 L260.4,339.7 L261.3,339.9 L262.3,340.1 L263.2,340.3 L264.2,340.4 L265.1,340.5 L266.1,340.6 L267.0,340.7 L267.9,340.7 L268.9,340.7 L269.8,340.6 L270.7,340.6 L271.7,340.5 L272.6,340.3 L273.5,340.2 L274.4,340.0 L275.3,339.8 L276.1,339.5 L277.0,339.2 L277.9,338.9 L278.7,338.5 L279.6,338.1 L280.4,337.7 L281.2,337.3 L282.0,336.8 L282.8,336.2 L283.6,335.7 L284.3,335.1 L285.1,334.4 L285.8,333.8 L286.5,333.1 L287.2,332.4 L287.9,331.7 L288.6,330.9 L289.3,330.1 L289.9,329.3 L290.6,328.5 L291.2,327.7 L291.8,326.9 L292.5,326.0 L293.1,325.1 L293.7,324.3 L294.3,323.4 L294.9,322.5 L295.4,321.6 L296.0,320.7 L296.6,319.8 L297.1,318.9 L297.7,318.0 L298.3,317.1 L298.8,316.2 L299.3,315.4 L299.9,314.5 L300.4,313.6 L300.9,312.8 L301.5,311.9 L302.0,311.0 L302.5,310.2 L303.1,309.3 L303.6,308.5 L304.1,307.7 L304.6,306.8 L305.2,306.0 L305.7,305.1 L306.3,304.3 L306.8,303.5 L307.3,302.7 L307.9,301.9 L308.5,301.0 L309.0,300.2 L309.6,299.4 L310.2,298.6 L310.8,297.8 L311.3,297.0 L311.9,296.2 L312.5,295.4 L313.1,294.6 L313.8,293.8 L314.4,293.0 L315.0,292.2 L315.6,291.4 L316.3,290.6 L316.9,289.9 L317.6,289.1 L318.2,288.3 L318.9,287.6 L319.6,286.8 L320.2,286.1 L320.9,285.3 L321.6,284.6 L322.3,283.8 L323.0,283.1 L323.7,282.4 L324.4,281.6 L325.1,280.9 L325.8,280.2 L326.6,279.5 L327.3,278.8 L328.0,278.1 L328.8,277.4 L329.5,276.7 L330.3,276.1 L331.0,275.4 L331.8,274.7 L332.6,274.1 L333.3,273.4 L334.1,272.8 L334.9,272.2 L335.7,271.5 L336.5,270.9 L337.3,270.3 L338.1,269.7 L338.9,269.1 L339.7,268.5 L340.5,267.9 L341.3,267.4 L342.2,266.8 L343.0,266.3 L343.8,265.7 L344.7,265.2 L345.5,264.6 L346.4,264.1 L347.2,263.6 L348.1,263.1 L349.0,262.6 L349.8,262.2 L350.7,261.7 L351.6,261.2 L352.5,260.8 L353.4,260.3 L354.3,259.9 L355.2,259.5 L356.1,259.1 L357.0,258.7 L357.9,258.3 L358.8,257.9 L359.7,257.6 L360.6,257.2 L361.6,256.9 L362.5,256.5 L363.4,256.2 L364.4,255.9 L365.3,255.6 L366.2,255.3 L367.2,255.0 L368.1,254.8 L369.1,254.5 L370.1,254.3 L371.0,254.0 L372.0,253.8 L373.0,253.6 L373.9,253.4 L374.9,253.2 L375.9,253.0 L376.9,252.8 L377.8,252.7 L378.8,252.5 L379.8,252.4 L380.8,252.2 L381.8,252.1 L382.8,252.0 L383.8,251.8 L384.8,251.7 L385.8,251.6 L386.8,251.6 L387.8,251.5 L388.8,251.4 L389.8,251.3 L390.8,251.3 L391.8,251.2 L392.8,251.2 L393.8,251.2 L394.8,251.2 L395.8,251.1 L396.9,251.1 L397.9,251.1 L398.9,251.1 L399.9,251.1 L400.9,251.2 L401.9,251.2 L403.0,251.2 L404.0,251.3 L405.0,251.3 L406.0,251.4 L407.0,251.4 L408.0,251.5 L409.0,251.6 L410.1,251.6 L411.1,251.7 L412.1,251.8 L413.1,251.9 L414.1,252.0 L415.1,252.1 L416.1,252.2 L417.2,252.3 L418.2,252.5 L419.2,252.6 L420.2,252.7 L421.2,252.8 L422.2,253.0 L423.2,253.1 L424.2,253.3 L425.2,253.4 L426.2,253.6 L427.2,253.8 L428.2,253.9 L429.2,254.1 L430.2,254.3 L431.2,254.4 L432.1,254.6 L433.1,254.8 L434.1,255.0 L435.1,255.2 L436.1,255.4 L437.1,255.6 L438.0,255.8 L439.0,256.0 L440.0,256.2 L441.0,256.4 L441.9,256.6 L442.9,256.9 L443.9,257.1 L444.8,257.3 L445.8,257.6 L446.8,257.8 L447.7,258.0 L448.7,258.3 L449.7,258.5 L450.6,258.8 L451.6,259.0 L452.5,259.3 L453.5,259.5 L454.4,259.8 L455.4,260.1 L456.3,260.3 L457.3,260.6 L458.2,260.9 L459.2,261.1 L460.1,261.4 L461.1,261.7 L462.0,262.0 L463.0,262.3 L463.9,262.6 L464.9,262.8 L465.8,263.1 L466.8,263.4 L467.7,263.7 L468.7,264.0 L469.6,264.3 L470.5,264.6 L471.5,265.0 L472.4,265.3 L473.4,265.6 L474.3,265.9 L475.3,266.2 L476.2,266.5 L477.1,266.8 L478.1,267.2 L479.0,267.5 L479.9,267.8 L480.9,268.1 L481.8,268.5 L482.8,268.8 L483.7,269.1 L484.6,269.5 L485.6,269.8 L486.5,270.1 L487.5,270.5 L488.4,270.8 L489.3,271.2 L490.3,271.5 L491.2,271.9 L492.2,272.2 L493.1,272.6 L494.0,272.9 L495.0,273.3 L495.9,273.6 L496.8,274.0 L497.8,274.3 L498.7,274.7 L499.7,275.0 L500.6,275.4 L501.6,275.8 L502.5,276.1 L503.4,276.5 L504.4,276.8 L505.3,277.2 L506.3,277.6 L507.2,277.9 L508.2,278.3 L509.1,278.7 L510.1,279.0 L511.0,279.4 L512.0,279.8 L512.9,280.1 L513.9,280.5 L514.8,280.9 L515.8,281.2 L516.7,281.6 L517.7,282.0 L518.6,282.3 L519.6,282.7 L520.6,283.1 L521.5,283.5 L522.5,283.9 L523.4,284.2 L524.4,284.6 L525.3,285.0 L526.3,285.4 L527.2,285.8 L528.1,286.2 L529.1,286.6 L530.0,287.0 L530.9,287.4 L531.9,287.8 L532.8,288.3 L533.7,288.7 L534.6,289.1 L535.5,289.6 L536.4,290.0 L537.3,290.5 L538.2,290.9 L539.1,291.4 L540.0,291.8 L540.8,292.3 L541.7,292.8 L542.6,293.3 L543.4,293.8 L544.2,294.3 L545.1,294.8 L545.9,295.4 L546.7,295.9 L547.5,296.4 L548.3,297.0 L549.1,297.6 L549.9,298.1 L550.6,298.7 L551.4,299.3 L552.1,299.9 L552.9,300.6 L553.6,301.2 L554.3,301.8 L555.0,302.5 L555.7,303.1 L556.4,303.8 L557.0,304.5 L557.7,305.2 L558.3,305.9 L558.9,306.7 L559.5,307.4 L560.1,308.2 L560.7,308.9 L561.3,309.7 L561.8,310.5 L562.4,311.3" fill="none" stroke="#e3162a" stroke-width="2.5"/>
<!-- laser beam -->
<path d="M266.3,30 L327.7,30 L327.7,66.0 C327.5,67.0 327.8,68.5 326.6,72.0 C325.4,75.5 322.5,82.4 320.6,87.0 C318.7,91.6 316.9,95.5 315.4,99.7 C313.9,104.0 312.8,108.3 311.6,112.5 C310.4,116.7 309.2,121.3 308.4,125.0 C307.6,128.7 307.7,130.6 307.0,134.6 C306.3,138.6 304.9,144.3 304.1,149.2 C303.3,154.1 302.6,158.9 302.0,163.8 C301.4,168.7 301.1,172.4 300.6,178.4 C300.1,184.4 299.4,189.7 298.8,200.0 C298.2,210.3 297.3,228.3 297.0,240.0 C296.7,251.7 296.8,258.2 296.9,270.0 C297.0,281.8 297.7,304.2 297.9,311.0 L292.6,311.0 C292.8,304.2 293.4,281.8 293.5,270.0 C293.6,258.2 293.5,251.7 293.4,240.0 C293.2,228.3 292.9,210.3 292.6,200.0 C292.4,189.7 292.3,184.4 291.9,178.4 C291.5,172.4 291.0,168.7 290.4,163.8 C289.8,158.9 289.1,154.1 288.3,149.2 C287.5,144.3 286.4,138.6 285.6,134.6 C284.8,130.6 284.2,128.7 283.6,125.0 C283.0,121.3 282.7,116.7 281.7,112.5 C280.7,108.3 279.3,104.0 277.8,99.7 C276.3,95.5 274.6,91.6 272.7,87.0 C270.8,82.4 267.7,75.5 266.5,72.0 C265.3,68.5 265.5,67.0 265.3,66.0 Z" fill="#8a2f3a" stroke="#151515" stroke-width="2"/>
<ellipse cx="296.5" cy="66.2" rx="40.2" ry="4.3" fill="#8a2f3a" stroke="#151515" stroke-width="2.6"/>
<!-- blue dashed -->
<path d="M186.7,312.0 L187.3,311.2 L188.0,310.4 L188.7,309.6 L189.4,308.9 L190.1,308.1 L190.8,307.4 L191.5,306.6 L192.2,305.9 L193.0,305.2 L193.7,304.5 L194.4,303.7 L195.2,303.1 L195.9,302.4 L196.7,301.7 L197.4,301.0 L198.2,300.4 L199.0,299.7 L199.7,299.1 L200.5,298.4 L201.3,297.8 L202.1,297.2 L202.9,296.6 L203.7,296.0 L204.5,295.4 L205.3,294.8 L206.1,294.3 L206.9,293.7 L207.8,293.1 L208.6,292.6 L209.4,292.0 L210.3,291.5 L211.1,291.0 L211.9,290.4 L212.8,289.9 L213.6,289.4 L214.5,288.9 L215.4,288.4 L216.2,287.9 L217.1,287.5 L218.0,287.0 L218.8,286.5 L219.7,286.1 L220.6,285.6 L221.5,285.1 L222.4,284.7 L223.3,284.3 L224.2,283.8 L225.1,283.4 L226.0,283.0 L226.9,282.6 L227.8,282.2 L228.7,281.8 L229.6,281.4 L230.5,281.0 L231.4,280.6 L232.4,280.2 L233.3,279.8 L234.2,279.4 L235.1,279.1 L236.1,278.7 L237.0,278.3 L237.9,278.0 L238.9,277.6 L239.8,277.3 L240.7,276.9 L241.7,276.6 L242.6,276.3 L243.6,275.9 L244.5,275.6 L245.5,275.3 L246.4,275.0 L247.4,274.6 L248.3,274.3 L249.3,274.0 L250.2,273.7 L251.2,273.4 L252.1,273.1 L253.1,272.8 L254.1,272.5 L255.0,272.2 L256.0,271.9 L256.9,271.6 L257.9,271.3 L258.9,271.0 L259.8,270.8 L260.8,270.5 L261.8,270.2 L262.7,269.9 L263.7,269.7 L264.7,269.4 L265.6,269.1 L266.6,268.9 L267.6,268.6 L268.5,268.4 L269.5,268.1 L270.5,267.9 L271.4,267.6 L272.4,267.4 L273.4,267.1 L274.4,266.9 L275.3,266.7 L276.3,266.4 L277.3,266.2 L278.3,266.0 L279.2,265.8 L280.2,265.5 L281.2,265.3 L282.2,265.1 L283.2,264.9 L284.1,264.7 L285.1,264.5 L286.1,264.3 L287.1,264.1 L288.1,263.9 L289.1,263.7 L290.0,263.5 L291.0,263.4 L292.0,263.2 L293.0,263.0 L294.0,262.8 L295.0,262.7 L296.0,262.5 L297.0,262.3 L298.0,262.2 L298.9,262.0 L299.9,261.9 L300.9,261.7 L301.9,261.6 L302.9,261.5 L303.9,261.3 L304.9,261.2 L305.9,261.1 L306.9,260.9 L307.9,260.8 L308.9,260.7 L309.9,260.6 L310.9,260.5 L311.9,260.4 L312.9,260.3 L313.9,260.2 L314.9,260.1 L315.9,260.0 L316.9,259.9 L317.9,259.8 L318.9,259.8 L319.9,259.7 L320.9,259.6 L321.9,259.5 L322.9,259.5 L323.9,259.4 L324.9,259.4 L325.9,259.3 L326.9,259.3 L327.9,259.2 L328.9,259.2 L329.9,259.2 L330.9,259.1 L331.9,259.1 L332.9,259.1 L334.0,259.1 L335.0,259.1 L336.0,259.1 L337.0,259.1 L338.0,259.1 L339.0,259.1 L340.0,259.1 L341.0,259.1 L342.0,259.1 L343.1,259.2 L344.1,259.2 L345.1,259.2 L346.1,259.3 L347.1,259.3 L348.1,259.3 L349.1,259.4 L350.2,259.5 L351.2,259.5 L352.2,259.6 L353.2,259.7 L354.2,259.7 L355.2,259.8 L356.3,259.9 L357.3,260.0 L358.3,260.1 L359.3,260.2 L360.3,260.3 L361.3,260.4 L362.4,260.5 L363.4,260.6 L364.4,260.8 L365.4,260.9 L366.4,261.1 L367.3,261.3 L368.3,261.5 L369.3,261.7 L370.2,262.0 L371.1,262.3 L372.0,262.6 L372.8,263.0 L373.7,263.4 L374.5,263.8 L375.2,264.3 L376.0,264.8 L376.7,265.4 L377.3,266.0 L378.0,266.7 L378.5,267.4 L379.1,268.2 L379.6,269.0 L380.0,269.9 L380.4,270.8 L380.8,271.7 L381.2,272.7 L381.5,273.7 L381.8,274.7 L382.0,275.7 L382.3,276.7 L382.5,277.7 L382.7,278.7 L382.9,279.7 L383.0,280.7 L383.1,281.7 L383.2,282.7 L383.3,283.7 L383.4,284.7 L383.4,285.7 L383.4,286.7 L383.4,287.7 L383.4,288.7 L383.4,289.7 L383.3,290.7 L383.2,291.7 L383.2,292.7 L383.1,293.7 L383.0,294.8 L382.8,295.8 L382.7,296.8 L382.5,297.8 L382.4,298.8 L382.2,299.8 L382.0,300.8 L381.8,301.8 L381.6,302.8 L381.4,303.8 L381.2,304.8 L380.9,305.8 L380.7,306.8 L380.5,307.7 L380.2,308.7 L379.9,309.7 L379.7,310.7 L379.4,311.7 L379.1,312.7 L378.9,313.7 L378.6,314.7 L378.3,315.6 L378.0,316.6 L377.7,317.6 L377.5,318.6 L377.2,319.5 L376.9,320.5 L376.6,321.5 L376.3,322.5 L376.0,323.4 L375.7,324.4 L375.4,325.4 L375.1,326.3 L374.8,327.3 L374.5,328.2 L374.2,329.2 L373.9,330.2 L373.6,331.1 L373.3,332.1 L373.0,333.0 L372.7,334.0 L372.3,334.9 L372.0,335.9 L371.7,336.8 L371.4,337.8 L371.1,338.7 L370.7,339.7 L370.4,340.6 L370.1,341.5 L369.7,342.5 L369.4,343.4 L369.1,344.3 L368.7,345.3 L368.4,346.2 L368.1,347.2 L367.7,348.1 L367.4,349.0 L367.0,349.9 L366.7,350.9 L366.3,351.8 L366.0,352.7 L365.6,353.7 L365.3,354.6 L364.9,355.5 L364.6,356.4 L364.2,357.4 L363.8,358.3 L363.5,359.2 L363.1,360.1 L362.7,361.0 L362.4,362.0 L362.0,362.9 L361.6,363.8 L361.2,364.7 L360.9,365.6 L360.5,366.5 L360.1,367.5 L359.7,368.4 L359.3,369.3 L358.9,370.2 L358.6,371.1 L358.2,372.0 L357.8,372.9 L357.4,373.8 L357.0,374.8 L356.6,375.7 L356.2,376.6 L355.8,377.5 L355.4,378.4 L355.0,379.3 L354.6,380.2 L354.1,381.1 L353.7,382.0 L353.3,382.9 L352.9,383.8 L352.5,384.7 L352.1,385.7 L351.6,386.6 L351.2,387.5 L350.8,388.4 L350.4,389.3 L349.9,390.2 L349.5,391.1 L349.1,392.0 L348.6,392.9 L348.2,393.8 L347.7,394.7 L347.3,395.6 L346.8,396.5 L346.4,397.4 L346.0,398.3 L345.5,399.2 L345.0,400.1 L344.6,401.0 L344.1,401.9 L343.7,402.8 L343.2,403.7 L342.7,404.6 L342.2,405.5 L341.7,406.4 L341.3,407.3 L340.8,408.2 L340.3,409.0 L339.8,409.9 L339.3,410.8 L338.7,411.7 L338.2,412.5 L337.7,413.4 L337.2,414.2 L336.6,415.1 L336.1,415.9 L335.5,416.8 L335.0,417.6 L334.4,418.5 L333.8,419.3 L333.3,420.1 L332.7,420.9 L332.1,421.7 L331.5,422.5 L330.9,423.3 L330.3,424.1 L329.6,424.9 L329.0,425.7 L328.3,426.5 L327.7,427.2 L327.0,428.0 L326.4,428.7 L325.7,429.5 L325.0,430.2 L324.3,430.9 L323.6,431.6 L322.8,432.3 L322.1,433.0 L321.4,433.7 L320.6,434.4 L319.9,435.1 L319.1,435.7 L318.3,436.4 L317.5,437.0 L316.7,437.6 L315.9,438.2 L315.1,438.8 L314.3,439.4 L313.5,439.9 L312.7,440.5 L311.8,441.0 L311.0,441.6 L310.1,442.1 L309.3,442.6 L308.4,443.0 L307.5,443.5 L306.6,443.9 L305.7,444.4 L304.8,444.8 L303.9,445.2 L303.0,445.5 L302.1,445.9 L301.2,446.2 L300.2,446.5 L299.3,446.8 L298.4,447.1 L297.4,447.4 L296.5,447.6 L295.5,447.8 L294.5,448.0 L293.6,448.2 L292.6,448.3 L291.6,448.4 L290.6,448.5 L289.7,448.6 L288.7,448.7 L287.7,448.7 L286.7,448.8 L285.7,448.8 L284.7,448.7 L283.7,448.7 L282.7,448.6 L281.7,448.6 L280.7,448.5 L279.7,448.3 L278.7,448.2 L277.8,448.0 L276.8,447.8 L275.8,447.6 L274.8,447.4 L273.8,447.2 L272.9,446.9 L271.9,446.7 L271.0,446.4 L270.0,446.0 L269.1,445.7 L268.1,445.4 L267.2,445.0 L266.3,444.6 L265.4,444.2 L264.4,443.8 L263.6,443.3 L262.7,442.9 L261.8,442.4 L260.9,441.9 L260.1,441.4 L259.2,440.9 L258.4,440.3 L257.6,439.7 L256.8,439.2 L256.0,438.6 L255.2,438.0 L254.4,437.3 L253.7,436.7 L253.0,436.0 L252.2,435.3 L251.5,434.7 L250.9,433.9 L250.2,433.2 L249.6,432.5 L248.9,431.7 L248.3,431.0 L247.7,430.2 L247.1,429.4 L246.6,428.6 L246.0,427.7 L245.5,426.9 L245.0,426.0 L244.5,425.2 L244.0,424.3 L243.6,423.4 L243.1,422.5 L242.7,421.6 L242.2,420.7 L241.8,419.8 L241.4,418.9 L241.0,417.9 L240.6,417.0 L240.2,416.0 L239.8,415.1 L239.5,414.1 L239.1,413.2 L238.8,412.2 L238.4,411.2 L238.0,410.3 L237.7,409.3 L237.4,408.3 L237.0,407.3 L236.7,406.3 L236.3,405.4 L236.0,404.4 L235.7,403.4 L235.3,402.4 L235.0,401.5 L234.6,400.5 L234.3,399.5 L233.9,398.6 L233.6,397.6 L233.2,396.6 L232.9,395.7 L232.5,394.8 L232.1,393.8 L231.7,392.9 L231.3,392.0 L230.9,391.0 L230.5,390.1 L230.1,389.2 L229.7,388.3 L229.3,387.4 L228.9,386.5 L228.4,385.6 L228.0,384.8 L227.5,383.9 L227.1,383.0 L226.6,382.1 L226.2,381.3 L225.7,380.4 L225.2,379.5 L224.7,378.7 L224.2,377.8 L223.7,377.0 L223.2,376.1 L222.7,375.3 L222.2,374.5 L221.7,373.6 L221.2,372.8 L220.6,372.0 L220.1,371.2 L219.5,370.3 L219.0,369.5 L218.4,368.7 L217.9,367.9 L217.3,367.1 L216.7,366.3 L216.1,365.5 L215.5,364.7 L214.9,363.9 L214.3,363.1 L213.7,362.3 L213.1,361.5 L212.5,360.7 L211.9,359.9 L211.2,359.1 L210.6,358.3 L210.0,357.5 L209.3,356.7 L208.7,355.9 L208.0,355.1 L207.3,354.3 L206.7,353.5 L206.0,352.7 L205.3,351.9 L204.6,351.2 L204.0,350.4 L203.3,349.6 L202.6,348.8 L201.9,348.0 L201.3,347.2 L200.6,346.4 L199.9,345.6 L199.3,344.8 L198.6,344.0 L198.0,343.2 L197.3,342.4 L196.7,341.6 L196.1,340.8 L195.5,339.9 L194.9,339.1 L194.3,338.3 L193.7,337.5 L193.1,336.7 L192.6,335.8 L192.0,335.0 L191.5,334.2 L191.0,333.3 L190.5,332.5 L190.0,331.6 L189.5,330.8 L189.1,329.9 L188.7,329.0 L188.3,328.2 L187.9,327.3 L187.6,326.4 L187.2,325.5 L186.9,324.6 L186.6,323.7 L186.4,322.8 L186.1,321.9 L185.9,321.0 L185.7,320.1 L185.6,319.2 L185.5,318.2 L185.4,317.3 L185.3,316.3 L185.3,315.4 L185.3,314.4 L185.3,313.4 L185.4,312.5 L185.5,311.5" fill="none" stroke="#2d5189" stroke-width="2.4" stroke-dasharray="8 5.5"/>
<!-- torch -->
<g transform="translate(121.1,100.8) rotate(-29.7)">
<rect x="-10.5" y="-1" width="21" height="129" rx="4" fill="#dc5e1f"/>
</g>
<path d="M187.3,220.4 L187.9,219.9 L188.6,219.4 L189.4,219.0 L190.2,218.7 L191.0,218.4 L191.9,218.2 L192.9,218.1 L193.8,218.1 L194.8,218.1 L195.8,218.2 L196.8,218.3 L197.9,218.5 L198.9,218.8 L199.9,219.1 L201.0,219.4 L202.0,219.8 L203.0,220.2 L204.0,220.6 L205.0,221.1 L205.9,221.6 L206.8,222.2 L207.7,222.8 L208.5,223.4 L209.4,224.0 L210.2,224.7 L211.0,225.4 L211.7,226.1 L212.4,226.8 L213.2,227.6 L213.9,228.4 L214.5,229.2 L215.2,230.0 L215.8,230.8 L216.5,231.7 L217.0,232.6 L217.6,233.5 L218.1,234.4 L218.6,235.3 L219.0,236.2 L219.5,237.1 L219.8,238.0 L220.1,239.0 L220.4,239.9 L220.6,240.8 L220.8,241.8 L220.9,242.7 L221.0,243.6 L221.0,244.5 L221.0,245.4 L220.8,246.3 L220.7,247.2 L220.4,248.1 L220.1,248.9 L219.7,249.7 L219.2,250.5 L218.7,251.3 L218.0,252.1 L217.4,252.8 L216.6,253.5 L215.8,254.2 L214.9,254.8 L214.0,255.4 L213.0,256.0 L212.0,256.5 L211.0,257.0 L210.0,257.4 L208.9,257.8 L207.8,258.1 L206.8,258.3 L205.7,258.5 L204.6,258.7 L203.6,258.7 L202.6,258.7 L201.6,258.6 L200.6,258.5 L199.7,258.2 L198.9,257.9 L198.0,257.6 L197.2,257.1 L196.4,256.6 L195.6,256.1 L194.9,255.5 L194.2,254.9 L193.5,254.2 L192.8,253.4 L192.2,252.7 L191.6,251.9 L191.0,251.0 L190.4,250.2 L189.9,249.3 L189.3,248.4 L188.8,247.4 L188.3,246.5 L187.8,245.5 L187.3,244.5 L186.9,243.5 L186.5,242.5 L186.1,241.5 L185.8,240.5 L185.4,239.4 L185.1,238.4 L184.9,237.4 L184.7,236.3 L184.5,235.3 L184.3,234.2 L184.2,233.2 L184.1,232.2 L184.1,231.1 L184.1,230.1 L184.1,229.1 L184.2,228.1 L184.3,227.1 L184.5,226.2 L184.7,225.2 L185.0,224.3 L185.4,223.4 L185.7,222.6 L186.2,221.8 L186.7,221.1 L187.3,220.4Z" fill="#dc5e1f"/>
<path d="M221.7,281.0 L222.1,280.6 L222.7,280.4 L223.4,280.2 L224.3,280.2 L225.3,280.2 L226.3,280.3 L227.5,280.4 L228.6,280.6 L229.8,280.7 L230.9,280.9 L232.0,281.0 L233.1,281.1 L234.1,281.2 L235.1,281.2 L236.1,281.2 L237.0,281.2 L238.0,281.2 L238.9,281.1 L239.9,281.1 L240.8,281.0 L241.8,280.9 L242.8,280.7 L243.8,280.6 L244.9,280.4 L246.0,280.3 L247.0,280.1 L248.1,280.0 L249.3,279.9 L250.4,279.7 L251.5,279.6 L252.6,279.5 L253.7,279.4 L254.8,279.4 L255.9,279.4 L257.0,279.4 L258.1,279.4 L259.1,279.5 L260.2,279.7 L261.2,279.9 L262.1,280.1 L263.1,280.4 L264.0,280.8 L264.8,281.2 L265.6,281.7 L266.4,282.3 L267.2,282.9 L267.8,283.6 L268.5,284.3 L269.1,285.1 L269.6,285.9 L270.2,286.7 L270.6,287.6 L271.0,288.6 L271.4,289.5 L271.7,290.5 L272.0,291.5 L272.2,292.5 L272.4,293.5 L272.5,294.6 L272.5,295.6 L272.6,296.7 L272.5,297.7 L272.4,298.7 L272.3,299.7 L272.1,300.7 L271.8,301.7 L271.5,302.6 L271.1,303.6 L270.7,304.4 L270.2,305.3 L269.7,306.1 L269.1,306.9 L268.5,307.7 L267.8,308.4 L267.1,309.1 L266.3,309.7 L265.5,310.3 L264.7,310.9 L263.8,311.4 L262.9,311.9 L262.0,312.4 L261.1,312.8 L260.1,313.2 L259.1,313.5 L258.1,313.8 L257.1,314.1 L256.1,314.3 L255.0,314.5 L254.0,314.7 L253.0,314.8 L251.9,314.8 L250.9,314.8 L249.8,314.8 L248.8,314.8 L247.8,314.7 L246.8,314.5 L245.8,314.3 L244.8,314.1 L243.8,313.8 L242.9,313.5 L242.0,313.1 L241.1,312.7 L240.2,312.2 L239.4,311.7 L238.6,311.2 L237.8,310.6 L237.1,309.9 L236.4,309.3 L235.7,308.5 L235.1,307.8 L234.5,307.0 L233.9,306.2 L233.3,305.3 L232.7,304.5 L232.2,303.6 L231.6,302.7 L231.1,301.7 L230.6,300.8 L230.1,299.8 L229.6,298.8 L229.1,297.9 L228.6,296.9 L228.1,295.9 L227.6,294.9 L227.1,293.9 L226.6,292.9 L226.1,292.0 L225.5,291.0 L225.0,290.1 L224.5,289.1 L224.0,288.2 L223.5,287.3 L223.0,286.4 L222.6,285.5 L222.2,284.6 L221.9,283.8 L221.6,283.0 L221.5,282.2 L221.5,281.6 L221.7,281.0Z" fill="#dc5e1f"/>
<path d="M241.8,334.9 L242.1,334.5 L242.7,334.3 L243.4,334.3 L244.3,334.4 L245.3,334.7 L246.3,335.1 L247.5,335.5 L248.6,336.0 L249.8,336.5 L251.0,337.0 L252.1,337.4 L253.2,337.8 L254.3,338.2 L255.3,338.5 L256.3,338.8 L257.3,339.0 L258.3,339.2 L259.2,339.3 L260.2,339.5 L261.1,339.6 L262.1,339.6 L263.0,339.7 L264.0,339.7 L265.0,339.7 L266.0,339.7 L267.0,339.6 L268.0,339.5 L269.1,339.4 L270.1,339.3 L271.1,339.1 L272.1,339.0 L273.1,338.7 L274.1,338.5 L275.1,338.2 L276.0,337.9 L277.0,337.5 L277.9,337.1 L278.8,336.7 L279.6,336.2 L280.5,335.7 L281.3,335.2 L282.1,334.6 L282.9,334.0 L283.7,333.4 L284.4,332.8 L285.1,332.1 L285.8,331.3 L286.5,330.6 L287.2,329.8 L287.8,329.0 L288.4,328.2 L289.0,327.3 L289.5,326.4 L290.1,325.4 L290.6,324.5 L291.1,323.6 L291.6,322.6 L292.2,321.7 L292.8,320.9 L293.5,320.2 L294.2,319.5 L295.1,318.9 L296.0,318.5 L296.9,318.2 L297.9,318.1 L298.7,318.1 L299.6,318.3 L300.3,318.7 L301.0,319.3 L301.6,319.9 L302.1,320.7 L302.6,321.6 L303.0,322.6 L303.3,323.6 L303.6,324.7 L303.8,325.8 L303.9,326.9 L303.9,327.9 L303.9,329.0 L303.9,330.0 L303.8,331.1 L303.6,332.1 L303.4,333.1 L303.2,334.0 L303.0,335.0 L302.7,336.0 L302.4,337.0 L302.1,337.9 L301.9,338.9 L301.6,339.9 L301.3,340.9 L301.0,341.8 L300.7,342.8 L300.4,343.7 L300.1,344.7 L299.7,345.6 L299.3,346.5 L298.9,347.4 L298.4,348.3 L297.9,349.1 L297.3,349.9 L296.7,350.7 L296.0,351.5 L295.3,352.2 L294.6,352.9 L293.8,353.5 L292.9,354.1 L292.1,354.7 L291.2,355.3 L290.3,355.8 L289.4,356.3 L288.4,356.7 L287.5,357.1 L286.5,357.5 L285.6,357.8 L284.6,358.2 L283.6,358.4 L282.7,358.7 L281.7,358.9 L280.7,359.1 L279.7,359.2 L278.7,359.4 L277.7,359.5 L276.7,359.5 L275.7,359.6 L274.7,359.6 L273.7,359.6 L272.7,359.5 L271.7,359.5 L270.7,359.4 L269.7,359.2 L268.7,359.1 L267.7,358.9 L266.7,358.7 L265.7,358.5 L264.8,358.3 L263.8,358.0 L262.8,357.7 L261.9,357.4 L261.0,357.1 L260.0,356.7 L259.1,356.3 L258.2,355.9 L257.3,355.5 L256.4,355.0 L255.5,354.5 L254.7,354.0 L253.8,353.5 L253.0,352.9 L252.2,352.3 L251.4,351.7 L250.6,351.0 L249.9,350.3 L249.1,349.6 L248.4,348.9 L247.7,348.1 L247.0,347.3 L246.3,346.5 L245.7,345.6 L245.1,344.7 L244.5,343.8 L243.9,342.9 L243.4,341.9 L242.9,341.0 L242.5,340.0 L242.2,339.1 L241.9,338.1 L241.7,337.2 L241.6,336.3 L241.6,335.5 L241.8,334.9Z" fill="#dc5e1f"/>
<g fill="#111">
<circle cx="216.8" cy="259.5" r="2.2"/><circle cx="223.8" cy="268.2" r="2.2"/><circle cx="230.4" cy="277.3" r="2.2"/><circle cx="263.4" cy="317.1" r="2.2"/><circle cx="270.1" cy="325.7" r="2.2"/><circle cx="276.5" cy="334.2" r="2.2"/>
</g>
<!-- magenta dashed -->
<path d="M164.2,197.4 C166.6,195.1 171.7,192.7 175.2,191.4 C178.7,190.1 181.9,189.6 185.0,189.7 C188.1,189.8 190.9,190.4 193.8,191.9 C196.7,193.4 199.1,195.2 202.6,198.5 C206.1,201.8 211.1,207.9 215.0,212.0 C218.9,216.1 222.0,219.3 226.0,223.0 C230.0,226.7 235.3,231.1 239.1,234.2 C242.8,237.3 243.3,237.2 248.5,241.5 C253.7,245.8 263.1,253.1 270.4,260.0 C277.7,266.9 286.9,276.3 292.3,283.0 C297.7,289.7 299.9,295.9 302.7,300.0 C305.5,304.1 307.1,304.4 309.3,307.7 C311.5,311.0 314.2,315.9 315.8,319.7 C317.4,323.5 318.7,327.0 319.1,330.7 C319.5,334.4 318.9,338.1 318.0,341.6 C317.1,345.1 315.7,348.4 313.7,351.5 C311.7,354.6 309.1,357.3 306.0,360.0 C302.9,362.7 297.7,366.1 295.0,367.7 C292.3,369.3 292.4,369.0 289.7,369.9 C287.0,370.8 282.4,372.6 278.8,373.2 C275.2,373.8 271.5,373.6 267.8,373.2 C264.1,372.8 260.4,372.3 256.9,371.0 C253.4,369.7 249.7,367.7 247.0,365.5 C244.3,363.3 242.5,360.9 240.5,357.8 C238.5,354.7 237.2,351.6 235.0,346.9 C232.8,342.2 229.8,334.1 227.5,329.4 C225.2,324.7 223.0,322.3 221.0,318.5 C219.0,314.7 217.3,310.4 215.5,306.4 C213.7,302.4 212.2,298.1 210.0,294.4 C207.8,290.6 205.0,288.3 202.6,283.9 C200.2,279.5 198.0,273.4 195.3,268.0 C192.6,262.6 189.2,256.0 186.6,251.6 C184.0,247.2 182.4,245.4 180.0,241.8 C177.6,238.2 174.2,233.2 171.9,230.0 C169.6,226.8 168.1,225.3 166.4,222.6 C164.8,219.9 162.9,216.7 162.0,213.8 C161.1,210.9 160.6,207.7 161.0,205.0 C161.4,202.3 161.8,199.7 164.2,197.4Z" fill="none" stroke="#aa38bc" stroke-width="2.2" stroke-dasharray="6 4"/>
<!-- arrows -->
<g fill="none" stroke="#111" stroke-width="1.8">
<path d="M246.1,350.0 C244.8,348.2 241.2,342.9 238.5,339.3 C235.8,335.7 232.6,331.2 229.7,328.3 C226.8,325.4 224.3,323.5 221.0,321.8 C217.7,320.1 212.9,319.0 210.0,317.9 C207.1,316.8 206.6,315.8 203.8,315.0 C201.1,314.2 195.2,313.5 193.5,313.2" marker-end="url(#ah)"/><path d="M264.6,360.0 C265.7,361.5 269.7,366.1 271.1,368.8 C272.6,371.6 272.8,372.1 273.3,376.5 C273.8,380.9 274.3,390.1 274.2,395.0 C274.1,399.9 273.1,403.0 272.5,406.0 C271.9,409.0 271.4,411.0 270.3,413.0 C269.2,415.0 266.7,417.2 266.0,418.0" marker-end="url(#ah)"/><path d="M300.2,353.8 C299.8,355.2 298.3,359.3 297.8,362.0 C297.3,364.7 297.1,366.5 297.3,370.0 C297.5,373.5 298.1,379.1 298.8,382.9 C299.5,386.7 300.5,390.0 301.5,393.0 C302.5,396.0 303.4,398.0 305.0,401.0 C306.6,404.0 308.8,407.9 311.0,411.0 C313.2,414.1 317.2,417.9 318.5,419.3" marker-end="url(#ah)"/><path d="M310.4,317.5 C311.7,315.1 315.2,307.5 318.0,303.3 C320.8,299.1 324.0,295.6 327.4,292.1 C330.8,288.6 334.6,284.9 338.3,282.2 C342.0,279.5 345.7,277.5 349.3,275.7 C352.9,273.9 356.5,272.1 360.0,271.3 C363.5,270.5 368.8,270.7 370.5,270.6" marker-end="url(#ah)"/><path d="M430.8,279.4 C432.8,279.0 439.0,277.6 442.8,277.2 C446.6,276.8 450.1,276.6 453.8,276.7 C457.5,276.8 460.4,277.2 465.0,278.0 C469.6,278.8 476.3,279.8 481.4,281.3 C486.5,282.8 491.5,284.4 495.7,286.8 C499.9,289.2 504.1,292.7 506.5,295.5 C508.9,298.3 509.8,301.0 510.1,303.7 C510.4,306.4 509.7,309.7 508.3,311.9 C506.9,314.1 504.5,315.8 501.9,316.9 C499.3,318.0 495.9,318.3 492.8,318.7 C489.7,319.1 484.6,318.9 483.0,319.0" marker-end="url(#ah)"/>
</g>
<!-- leader lines -->
<g stroke="#111" stroke-width="1.7">
<line x1="152.2" y1="258.7" x2="200.1" y2="278.2"/>
<line x1="467.2" y1="278" x2="535" y2="237.4"/>
<line x1="552.6" y1="298" x2="584.7" y2="283.4"/>
<line x1="438.9" y1="331.8" x2="497.6" y2="388.8"/>
<line x1="341.6" y1="405" x2="397.5" y2="470.5"/>
<line x1="192.1" y1="482.5" x2="230.5" y2="432"/>
</g>
<!-- welding direction arrow -->
<path d="M381.2,124.9 L387.6,119.2 L387.6,121.4 L497.5,121.4 Q499.2,121.4 499.2,123.2 L499.2,127.4 Q499.2,129.2 497.5,129.2 L387.6,129.2 L387.6,131 Z" fill="#777" opacity="0.35" transform="translate(0.8,1.4)" filter="url(#sh)"/>
<path d="M381.2,124.9 L387.6,119.2 L387.6,121.4 L497.5,121.4 Q499.2,121.4 499.2,123.2 L499.2,127.4 Q499.2,129.2 497.5,129.2 L387.6,129.2 L387.6,131 Z" fill="url(#wg)" stroke="#7d60b4" stroke-width="1.5" stroke-linejoin="round"/>
<!-- axes -->
<g stroke="#111" stroke-width="2.6" fill="none">
<path d="M553.9,176.3 L553.9,100 M552.6,176.3 L630,176.3"/>
</g>
<path d="M553.9,92 L560.5,107.4 L553.9,103.5 L547.3,107.4 Z" fill="#111"/>
<path d="M639.3,176.3 L625,169.7 L628.5,176.3 L625,182.9 Z" fill="#111"/>
<!-- texts -->
<text x="251.8" y="24.3" font-size="20" textLength="43.6" lengthAdjust="spacingAndGlyphs">Laser</text>
<text x="302.5" y="24.3" font-size="20" textLength="45.73" lengthAdjust="spacingAndGlyphs">beam</text>
<text x="17.2" y="254.5" font-size="20.2" textLength="62.72" lengthAdjust="spacingAndGlyphs">Droplet</text>
<text x="86.7" y="254.3" font-size="20.2" textLength="78.13" lengthAdjust="spacingAndGlyphs">evolution</text>
<text x="375.0" y="154.7" font-size="19.6" textLength="69.14" lengthAdjust="spacingAndGlyphs">Welding</text>
<text x="450.6" y="154.7" font-size="19.6" textLength="72.7" lengthAdjust="spacingAndGlyphs">direction</text>
<text x="455.7" y="239.3" font-size="21.6" textLength="101.95" lengthAdjust="spacingAndGlyphs">Marangoni</text>
<text x="567.5" y="239.3" font-size="21.6" textLength="103.77" lengthAdjust="spacingAndGlyphs">convection</text>
<text x="581.9" y="287.4" font-size="24" textLength="41.4" lengthAdjust="spacingAndGlyphs">Free</text>
<text x="630.4" y="287.4" font-size="24" textLength="69.18" lengthAdjust="spacingAndGlyphs">surface</text>
<text x="461.2" y="416" font-size="24.8" textLength="67.58" lengthAdjust="spacingAndGlyphs">Molten</text>
<text x="538.1" y="416" font-size="24.8" textLength="40.82" lengthAdjust="spacingAndGlyphs">pool</text>
<text x="374.9" y="480.1" font-size="22.6" textLength="71.77" lengthAdjust="spacingAndGlyphs">Droplet</text>
<text x="454.9" y="480.1" font-size="22.6" textLength="63.01" lengthAdjust="spacingAndGlyphs">impact</text>
<text x="90.7" y="498.8" font-size="23.3" textLength="64.33" lengthAdjust="spacingAndGlyphs">Mushy</text>
<text x="163.4" y="498.8" font-size="23.3" textLength="43.06" lengthAdjust="spacingAndGlyphs">zone</text>
<text x="555.5" y="517.4" font-size="19" font-weight="bold" textLength="90.01" lengthAdjust="spacingAndGlyphs">workpiece</text>

<text transform="translate(72.2,118) rotate(-28)" font-size="21" textLength="87.5" lengthAdjust="spacingAndGlyphs">MIG torch</text>
<text x="531.3" y="113.3" font-size="22" textLength="15" lengthAdjust="spacingAndGlyphs">Z</text>
<text x="609.2" y="196" font-size="22" textLength="16" lengthAdjust="spacingAndGlyphs">X</text>
</g>
</svg>
</body></html>
